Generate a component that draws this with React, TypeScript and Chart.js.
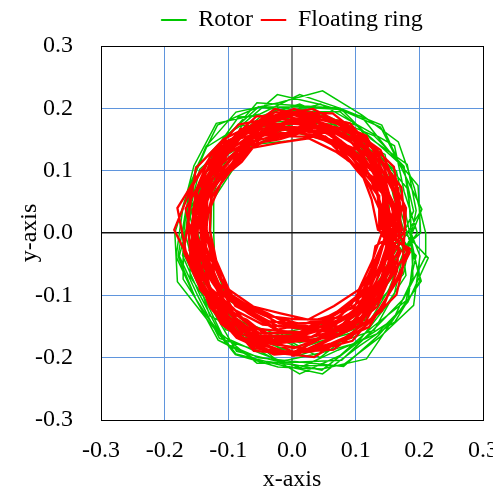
import React, { useEffect, useRef } from 'react';
import { Chart, registerables } from 'chart.js';

Chart.register(...registerables);

const seriesNames = ['Rotor', 'Floating ring'];
const seriesColors = ['#00c800', '#ff0000'];
const axisMin = -0.3;
const axisMax = 0.3;
const axisStep = 0.1;
const axisTitles = ['x-axis', 'y-axis'];

// Rotor orbit (x, y) samples
const rotorPoints: [number, number][] = [
  [0.177, 0], [0.159, 0.060], [0.146, 0.126], [0.093, 0.155], [0.042, 0.189], [-0.015, 0.169], [-0.078, 0.173], [-0.111, 0.117], [-0.146, 0.064], [-0.143, 0], [-0.154, -0.067], [-0.113, -0.118], [-0.075, -0.168], [-0.015, -0.167], [0.044, -0.200], [0.095, -0.160], [0.133, -0.114], [0.175, -0.066],
  [0.195, 0.036], [0.181, 0.110], [0.124, 0.151], [0.076, 0.200], [0.012, 0.204], [-0.055, 0.209], [-0.102, 0.153], [-0.151, 0.106], [-0.159, 0.034], [-0.177, -0.037], [-0.147, -0.103], [-0.114, -0.169], [-0.049, -0.190], [0.012, -0.226], [0.075, -0.197], [0.125, -0.152], [0.179, -0.109], [0.195, -0.036],
  [0.161, 0], [0.145, 0.054], [0.129, 0.111], [0.085, 0.141], [0.036, 0.153], [-0.014, 0.166], [-0.060, 0.139], [-0.106, 0.112], [-0.126, 0.056], [-0.128, 0], [-0.131, -0.058], [-0.099, -0.105], [-0.057, -0.133], [-0.014, -0.164], [0.037, -0.157], [0.089, -0.149], [0.124, -0.106], [0.147, -0.055],
  [0.204, 0.038], [0.172, 0.104], [0.141, 0.173], [0.076, 0.200], [0.012, 0.222], [-0.050, 0.191], [-0.119, 0.176], [-0.154, 0.108], [-0.172, 0.036], [-0.182, -0.038], [-0.151, -0.106], [-0.116, -0.172], [-0.054, -0.204], [0.012, -0.213], [0.080, -0.212], [0.137, -0.168], [0.191, -0.116], [0.201, -0.037],
  [0.187, 0], [0.183, 0.069], [0.141, 0.121], [0.102, 0.173], [0.042, 0.189], [-0.020, 0.202], [-0.071, 0.160], [-0.123, 0.127], [-0.148, 0.065], [-0.168, 0], [-0.151, -0.066], [-0.129, -0.133], [-0.072, -0.162], [-0.021, -0.207], [0.043, -0.193], [0.103, -0.176], [0.143, -0.124], [0.179, -0.068],
  [0.167, 0.030], [0.141, 0.084], [0.116, 0.139], [0.064, 0.162], [0.012, 0.179], [-0.039, 0.158], [-0.093, 0.141], [-0.122, 0.087], [-0.131, 0.028], [-0.144, -0.031], [-0.120, -0.086], [-0.091, -0.138], [-0.038, -0.157], [0.012, -0.176], [0.064, -0.162], [0.116, -0.139], [0.142, -0.085], [0.168, -0.031],
  [0.202, 0], [0.198, 0.076], [0.152, 0.132], [0.109, 0.187], [0.045, 0.206], [-0.023, 0.222], [-0.078, 0.174], [-0.134, 0.138], [-0.162, 0.071], [-0.170, 0], [-0.171, -0.074], [-0.132, -0.136], [-0.088, -0.194], [-0.022, -0.211], [0.048, -0.226], [0.106, -0.181], [0.162, -0.142], [0.201, -0.077],
  [0.178, 0.033], [0.164, 0.099], [0.116, 0.139], [0.070, 0.181], [0.012, 0.200], [-0.043, 0.172], [-0.099, 0.149], [-0.132, 0.094], [-0.162, 0.034], [-0.146, -0.031], [-0.135, -0.096], [-0.104, -0.155], [-0.044, -0.174], [0.012, -0.196], [0.069, -0.177], [0.129, -0.156], [0.161, -0.097], [0.175, -0.032],
  [0.154, 0], [0.152, 0.057], [0.117, 0.099], [0.085, 0.141], [0.037, 0.155], [-0.011, 0.147], [-0.062, 0.142], [-0.094, 0.100], [-0.123, 0.055], [-0.123, 0], [-0.121, -0.054], [-0.101, -0.107], [-0.058, -0.134], [-0.014, -0.160], [0.036, -0.149], [0.084, -0.139], [0.119, -0.101], [0.150, -0.056],
  [0.191, 0.035], [0.175, 0.106], [0.125, 0.152], [0.075, 0.195], [0.012, 0.194], [-0.053, 0.202], [-0.104, 0.155], [-0.150, 0.105], [-0.164, 0.035], [-0.169, -0.036], [-0.140, -0.099], [-0.110, -0.163], [-0.055, -0.209], [0.012, -0.207], [0.078, -0.204], [0.128, -0.155], [0.175, -0.106], [0.209, -0.039],
  [0.210, 0], [0.192, 0.073], [0.167, 0.146], [0.110, 0.189], [0.048, 0.228], [-0.021, 0.209], [-0.088, 0.194], [-0.135, 0.139], [-0.163, 0.071], [-0.184, 0], [-0.180, -0.078], [-0.134, -0.138], [-0.089, -0.195], [-0.022, -0.215], [0.047, -0.218], [0.117, -0.202], [0.159, -0.139], [0.203, -0.077],
  [0.172, 0.031], [0.158, 0.095], [0.112, 0.133], [0.068, 0.174], [0.012, 0.178], [-0.046, 0.179], [-0.087, 0.132], [-0.130, 0.092], [-0.153, 0.032], [-0.143, -0.030], [-0.137, -0.097], [-0.091, -0.138], [-0.040, -0.160], [0.012, -0.185], [0.066, -0.167], [0.120, -0.145], [0.152, -0.091], [0.175, -0.032],
  [0.197, 0], [0.176, 0.067], [0.161, 0.140], [0.102, 0.174], [0.045, 0.207], [-0.018, 0.189], [-0.084, 0.186], [-0.124, 0.129], [-0.146, 0.064], [-0.161, 0], [-0.160, -0.070], [-0.123, -0.127], [-0.087, -0.190], [-0.021, -0.206], [0.047, -0.220], [0.103, -0.176], [0.159, -0.139], [0.190, -0.072],
  [0.186, 0.034], [0.176, 0.107], [0.129, 0.156], [0.070, 0.181], [0.012, 0.207], [-0.048, 0.188], [-0.097, 0.146], [-0.145, 0.102], [-0.161, 0.034], [-0.172, -0.036], [-0.144, -0.101], [-0.111, -0.165], [-0.050, -0.193], [0.012, -0.216], [0.072, -0.188], [0.133, -0.162], [0.182, -0.111], [0.191, -0.035],
  [0.167, 0], [0.167, 0.063], [0.128, 0.109], [0.093, 0.157], [0.040, 0.173], [-0.018, 0.186], [-0.065, 0.149], [-0.113, 0.118], [-0.137, 0.060], [-0.138, 0], [-0.138, -0.061], [-0.115, -0.120], [-0.066, -0.150], [-0.018, -0.187], [0.040, -0.175], [0.095, -0.160], [0.129, -0.111], [0.164, -0.062],
  [0.204, 0.038], [0.172, 0.104], [0.139, 0.170], [0.076, 0.198], [0.012, 0.202], [-0.053, 0.202], [-0.117, 0.173], [-0.150, 0.105], [-0.167, 0.035], [-0.179, -0.037], [-0.151, -0.106], [-0.116, -0.172], [-0.052, -0.200], [0.012, -0.207], [0.081, -0.214], [0.135, -0.165], [0.182, -0.111], [0.214, -0.040],
  [0.177, 0],
];

// Floating ring orbit (x, y) samples
const ringPoints: [number, number][] = [
  [0.140, 0.005], [0.136, 0.059], [0.105, 0.101], [0.072, 0.139], [0.028, 0.164], [-0.020, 0.154], [-0.067, 0.140], [-0.098, 0.100], [-0.126, 0.057], [-0.138, 0.005], [-0.123, -0.046], [-0.103, -0.094], [-0.062, -0.121], [-0.020, -0.145], [0.027, -0.152], [0.071, -0.126], [0.110, -0.095], [0.132, -0.047],
  [0.161, 0.037], [0.138, 0.092], [0.109, 0.145], [0.057, 0.171], [0.003, 0.175], [-0.053, 0.176], [-0.098, 0.139], [-0.137, 0.095], [-0.149, 0.035], [-0.161, -0.028], [-0.134, -0.083], [-0.097, -0.128], [-0.054, -0.171], [0.003, -0.174], [0.057, -0.160], [0.109, -0.135], [0.136, -0.081], [0.162, -0.027],
  [0.149, 0.005], [0.145, 0.062], [0.112, 0.107], [0.077, 0.148], [0.029, 0.172], [-0.022, 0.164], [-0.071, 0.149], [-0.105, 0.106], [-0.136, 0.061], [-0.141, 0.005], [-0.140, -0.053], [-0.108, -0.100], [-0.067, -0.130], [-0.022, -0.157], [0.029, -0.160], [0.074, -0.133], [0.117, -0.102], [0.139, -0.050],
  [0.168, 0.038], [0.152, 0.101], [0.109, 0.145], [0.061, 0.184], [0.003, 0.190], [-0.056, 0.187], [-0.102, 0.144], [-0.144, 0.099], [-0.180, 0.040], [-0.167, -0.029], [-0.140, -0.087], [-0.110, -0.145], [-0.055, -0.174], [0.003, -0.196], [0.060, -0.169], [0.112, -0.139], [0.144, -0.086], [0.185, -0.025],
  [0.135, 0.005], [0.125, 0.054], [0.107, 0.103], [0.068, 0.131], [0.026, 0.152], [-0.019, 0.145], [-0.065, 0.136], [-0.097, 0.099], [-0.127, 0.058], [-0.129, 0.005], [-0.119, -0.044], [-0.099, -0.091], [-0.061, -0.118], [-0.018, -0.129], [0.025, -0.139], [0.066, -0.117], [0.105, -0.091], [0.126, -0.045],
  [0.153, 0.035], [0.132, 0.088], [0.104, 0.139], [0.056, 0.167], [0.003, 0.170], [-0.050, 0.168], [-0.095, 0.135], [-0.128, 0.089], [-0.153, 0.036], [-0.147, -0.025], [-0.125, -0.077], [-0.098, -0.129], [-0.052, -0.165], [0.003, -0.168], [0.054, -0.153], [0.102, -0.126], [0.140, -0.083], [0.150, -0.024],
  [0.167, 0.005], [0.162, 0.069], [0.126, 0.121], [0.086, 0.165], [0.030, 0.180], [-0.026, 0.189], [-0.078, 0.162], [-0.127, 0.127], [-0.151, 0.068], [-0.158, 0.005], [-0.154, -0.059], [-0.121, -0.112], [-0.083, -0.161], [-0.025, -0.177], [0.031, -0.172], [0.087, -0.158], [0.128, -0.113], [0.160, -0.059],
  [0.143, 0.033], [0.128, 0.086], [0.092, 0.123], [0.052, 0.155], [0.003, 0.161], [-0.047, 0.159], [-0.085, 0.122], [-0.120, 0.084], [-0.140, 0.034], [-0.135, -0.023], [-0.114, -0.071], [-0.089, -0.117], [-0.044, -0.141], [0.003, -0.145], [0.051, -0.144], [0.091, -0.112], [0.127, -0.075], [0.141, -0.023],
  [0.160, 0.005], [0.146, 0.063], [0.125, 0.119], [0.081, 0.155], [0.031, 0.182], [-0.023, 0.174], [-0.076, 0.158], [-0.113, 0.114], [-0.144, 0.065], [-0.160, 0.005], [-0.143, -0.054], [-0.119, -0.109], [-0.073, -0.142], [-0.024, -0.169], [0.031, -0.175], [0.081, -0.145], [0.119, -0.104], [0.152, -0.055],
  [0.149, 0.034], [0.135, 0.090], [0.096, 0.129], [0.054, 0.162], [0.003, 0.168], [-0.048, 0.163], [-0.089, 0.127], [-0.125, 0.087], [-0.147, 0.035], [-0.141, -0.024], [-0.120, -0.074], [-0.093, -0.122], [-0.046, -0.147], [0.003, -0.151], [0.053, -0.150], [0.100, -0.124], [0.128, -0.076], [0.150, -0.024],
  [0.173, 0.005], [0.159, 0.068], [0.135, 0.129], [0.087, 0.167], [0.032, 0.194], [-0.025, 0.185], [-0.084, 0.174], [-0.126, 0.126], [-0.159, 0.071], [-0.185, 0.005], [-0.154, -0.059], [-0.127, -0.117], [-0.086, -0.167], [-0.028, -0.195], [0.033, -0.185], [0.087, -0.157], [0.134, -0.118], [0.159, -0.058],
  [0.140, 0.032], [0.119, 0.080], [0.094, 0.126], [0.050, 0.149], [0.003, 0.165], [-0.043, 0.147], [-0.087, 0.125], [-0.112, 0.079], [-0.132, 0.032], [-0.137, -0.023], [-0.113, -0.070], [-0.086, -0.113], [-0.042, -0.133], [0.003, -0.138], [0.050, -0.139], [0.093, -0.115], [0.119, -0.070], [0.140, -0.022],
  [0.164, 0.005], [0.152, 0.065], [0.128, 0.123], [0.083, 0.159], [0.030, 0.175], [-0.025, 0.184], [-0.076, 0.158], [-0.123, 0.124], [-0.149, 0.066], [-0.154, 0.005], [-0.150, -0.057], [-0.119, -0.109], [-0.081, -0.157], [-0.025, -0.172], [0.030, -0.167], [0.085, -0.154], [0.125, -0.109], [0.156, -0.057],
  [0.152, 0.035], [0.138, 0.092], [0.098, 0.131], [0.055, 0.165], [0.003, 0.180], [-0.048, 0.162], [-0.096, 0.136], [-0.124, 0.087], [-0.146, 0.035], [-0.150, -0.026], [-0.126, -0.078], [-0.095, -0.125], [-0.051, -0.161], [0.003, -0.160], [0.056, -0.157], [0.099, -0.122], [0.138, -0.082], [0.152, -0.025],
  [0.146, 0.005], [0.135, 0.058], [0.114, 0.110], [0.074, 0.142], [0.028, 0.167], [-0.021, 0.157], [-0.069, 0.145], [-0.101, 0.103], [-0.131, 0.060], [-0.143, 0.005], [-0.129, -0.048], [-0.107, -0.099], [-0.065, -0.126], [-0.021, -0.150], [0.028, -0.155], [0.072, -0.129], [0.112, -0.097], [0.135, -0.048],
  [0.159, 0.036], [0.144, 0.096], [0.103, 0.138], [0.058, 0.173], [0.003, 0.189], [-0.051, 0.170], [-0.101, 0.143], [-0.130, 0.091], [-0.153, 0.036], [-0.158, -0.027], [-0.133, -0.083], [-0.101, -0.133], [-0.054, -0.169], [0.003, -0.185], [0.058, -0.163], [0.104, -0.129], [0.144, -0.086], [0.159, -0.026],
  [0.155, 0.005], [0.135, 0.058], [0.128, 0.123], [0.075, 0.145], [0.030, 0.179], [-0.020, 0.155], [-0.081, 0.167], [-0.110, 0.111], [-0.130, 0.059], [-0.158, 0.005], [-0.134, -0.051], [-0.127, -0.117], [-0.071, -0.139], [-0.025, -0.177], [0.027, -0.152], [0.083, -0.149], [0.118, -0.103], [0.156, -0.057],
  [0.138, 0.032], [0.131, 0.087], [0.087, 0.117], [0.051, 0.154], [0.003, 0.155], [-0.046, 0.157], [-0.079, 0.114], [-0.117, 0.082], [-0.144, 0.034], [-0.128, -0.021], [-0.121, -0.075], [-0.084, -0.111], [-0.040, -0.128], [0.003, -0.151], [0.049, -0.136], [0.097, -0.120], [0.122, -0.072], [0.131, -0.021],
  [0.170, 0.005], [0.167, 0.072], [0.125, 0.119], [0.089, 0.171], [0.031, 0.185], [-0.027, 0.199], [-0.078, 0.161], [-0.126, 0.126], [-0.160, 0.071], [-0.163, 0.005], [-0.157, -0.060], [-0.121, -0.112], [-0.086, -0.167], [-0.026, -0.179], [0.033, -0.187], [0.093, -0.168], [0.128, -0.113], [0.163, -0.060],
  [0.147, 0.034], [0.139, 0.093], [0.095, 0.127], [0.056, 0.167], [0.003, 0.170], [-0.052, 0.173], [-0.090, 0.129], [-0.132, 0.092], [-0.146, 0.035], [-0.137, -0.023], [-0.134, -0.083], [-0.092, -0.121], [-0.052, -0.165], [0.003, -0.165], [0.052, -0.147], [0.104, -0.129], [0.132, -0.078], [0.155, -0.025],
  [0.137, 0.005], [0.137, 0.060], [0.103, 0.099], [0.072, 0.139], [0.028, 0.165], [-0.020, 0.150], [-0.068, 0.142], [-0.100, 0.102], [-0.133, 0.060], [-0.134, 0.005], [-0.120, -0.045], [-0.104, -0.095], [-0.064, -0.124], [-0.019, -0.137], [0.027, -0.150], [0.071, -0.126], [0.113, -0.099], [0.132, -0.047],
  [0.165, 0.037], [0.138, 0.092], [0.113, 0.151], [0.058, 0.173], [0.003, 0.192], [-0.051, 0.170], [-0.104, 0.147], [-0.137, 0.095], [-0.167, 0.039], [-0.153, -0.026], [-0.140, -0.087], [-0.106, -0.139], [-0.053, -0.166], [0.003, -0.191], [0.058, -0.163], [0.111, -0.138], [0.140, -0.083], [0.167, -0.028],
  [0.150, 0.005], [0.150, 0.065], [0.118, 0.113], [0.083, 0.159], [0.027, 0.162], [-0.023, 0.174], [-0.070, 0.146], [-0.118, 0.118], [-0.137, 0.062], [-0.152, 0.005], [-0.133, -0.050], [-0.113, -0.104], [-0.078, -0.151], [-0.022, -0.157], [0.030, -0.167], [0.078, -0.141], [0.124, -0.108], [0.140, -0.051],
  [0.173, 0.039], [0.144, 0.096], [0.117, 0.156], [0.060, 0.181], [0.003, 0.199], [-0.053, 0.178], [-0.107, 0.151], [-0.151, 0.104], [-0.161, 0.038], [-0.170, -0.030], [-0.144, -0.089], [-0.101, -0.133], [-0.056, -0.176], [0.003, -0.197], [0.060, -0.171], [0.115, -0.143], [0.146, -0.087], [0.171, -0.029],
  [0.143, 0.005], [0.143, 0.062], [0.107, 0.103], [0.076, 0.146], [0.027, 0.157], [-0.023, 0.170], [-0.068, 0.142], [-0.099, 0.101], [-0.136, 0.061], [-0.137, 0.005], [-0.140, -0.053], [-0.106, -0.097], [-0.065, -0.127], [-0.022, -0.155], [0.026, -0.144], [0.075, -0.135], [0.109, -0.094], [0.142, -0.051],
  [0.159, 0.036], [0.134, 0.089], [0.108, 0.144], [0.056, 0.167], [0.003, 0.184], [-0.048, 0.162], [-0.103, 0.145], [-0.132, 0.092], [-0.156, 0.037], [-0.147, -0.025], [-0.141, -0.088], [-0.098, -0.129], [-0.055, -0.173], [0.003, -0.174], [0.059, -0.168], [0.102, -0.126], [0.143, -0.085], [0.156, -0.026],
  [0.178, 0.005], [0.172, 0.073], [0.133, 0.127], [0.091, 0.176], [0.032, 0.189], [-0.026, 0.194], [-0.079, 0.164], [-0.119, 0.119], [-0.143, 0.064], [-0.155, 0.005], [-0.151, -0.058], [-0.129, -0.119], [-0.087, -0.168], [-0.028, -0.195], [0.033, -0.190], [0.095, -0.173], [0.138, -0.121], [0.173, -0.064],
  [0.179, 0.040], [0.151, 0.100], [0.116, 0.155], [0.061, 0.183], [0.003, 0.199], [-0.052, 0.175], [-0.098, 0.139], [-0.129, 0.090], [-0.152, 0.036], [-0.155, -0.027], [-0.142, -0.089], [-0.111, -0.146], [-0.059, -0.185], [0.003, -0.191], [0.065, -0.187], [0.118, -0.147], [0.164, -0.099], [0.180, -0.030],
  [0.167, 0.005], [0.166, 0.071], [0.139, 0.133], [0.088, 0.170], [0.033, 0.199], [-0.026, 0.189], [-0.078, 0.161], [-0.116, 0.117], [-0.150, 0.067], [-0.151, 0.005], [-0.153, -0.058], [-0.127, -0.117], [-0.084, -0.164], [-0.028, -0.192], [0.035, -0.199], [0.090, -0.163], [0.141, -0.125], [0.165, -0.061],
  [0.171, 0.039], [0.160, 0.106], [0.114, 0.152], [0.064, 0.192], [0.003, 0.194], [-0.053, 0.178], [-0.099, 0.140], [-0.132, 0.092], [-0.156, 0.037], [-0.152, -0.026], [-0.145, -0.090], [-0.104, -0.137], [-0.060, -0.189], [0.003, -0.194], [0.062, -0.177], [0.121, -0.151], [0.155, -0.093], [0.185, -0.031],
  [0.150, 0.005],
];

const FONT = '"Liberation Serif", "Times New Roman", serif';
const GRID_BLUE = '#5f95dd';

function fmt(v: number) {
  return Math.abs(v) < 1e-9 ? '0.0' : v.toFixed(1);
}

function isEdge(v: number) {
  return Math.abs(Math.abs(v) - axisMax) < 1e-9;
}

export default function App() {
  const ref = useRef<HTMLCanvasElement>(null);

  useEffect(() => {
    if (!ref.current) return;
    const defaultLabels = (Chart.defaults as any).plugins.legend.labels.generateLabels;
    const chart = new Chart(ref.current, {
      type: 'scatter',
      data: {
        datasets: [
          {
            label: seriesNames[0],
            data: rotorPoints.map(([x, y]) => ({ x, y })),
            showLine: true,
            borderColor: seriesColors[0],
            backgroundColor: seriesColors[0],
            borderWidth: 1.5,
            pointRadius: 0,
            pointHoverRadius: 0,
            tension: 0,
            order: 2,
          },
          {
            label: seriesNames[1],
            data: ringPoints.map(([x, y]) => ({ x, y })),
            showLine: true,
            borderColor: seriesColors[1],
            backgroundColor: seriesColors[1],
            borderWidth: 2.3,
            pointRadius: 0,
            pointHoverRadius: 0,
            tension: 0,
            order: 1,
          },
        ],
      },
      options: {
        animation: false,
        responsive: true,
        maintainAspectRatio: false,
        events: [],
        layout: { padding: { left: 0, right: 37, top: 0, bottom: 6 } },
        plugins: {
          tooltip: { enabled: false },
          legend: {
            display: true,
            position: 'top',
            align: 'center',
            fullSize: false,
            labels: {
              boxWidth: 25,
              boxHeight: 1,
              padding: 8,
              color: '#000',
              font: { family: FONT, size: 24 },
              generateLabels: (c: any) =>
                defaultLabels(c).map((it: any) => ({ ...it, lineWidth: 1 })),
              sort: (a: any, b: any) => a.datasetIndex - b.datasetIndex,
            },
          },
        },
        scales: {
          x: {
            type: 'linear',
            position: 'bottom',
            min: axisMin,
            max: axisMax,
            afterFit: (s: any) => { s.height = 65; },
            ticks: {
              stepSize: axisStep,
              padding: 16,
              color: '#000',
              font: { family: FONT, size: 24 },
              callback: (v: any) => fmt(Number(v)),
            },
            grid: {
              drawTicks: false,
              color: (ctx: any) => {
                const v = ctx.tick ? ctx.tick.value : 1;
                if (Math.abs(v) < 1e-9) return '#808080';
                if (isEdge(v)) return '#000';
                return GRID_BLUE;
              },
              lineWidth: (ctx: any) => {
                const v = ctx.tick ? ctx.tick.value : 1;
                return Math.abs(v) < 1e-9 ? 2 : 1;
              },
            },
            border: { display: true, color: '#000', width: 1 },
            title: {
              display: true,
              text: axisTitles[0],
              color: '#000',
              font: { family: FONT, size: 24, lineHeight: '10px' },
              padding: { top: 10, bottom: 0 },
            },
          },
          y: {
            type: 'linear',
            position: 'left',
            min: axisMin,
            max: axisMax,
            afterFit: (s: any) => { s.width = 101; },
            ticks: {
              stepSize: axisStep,
              padding: 28,
              color: '#000',
              font: { family: FONT, size: 24 },
              callback: (v: any) => fmt(Number(v)),
            },
            grid: {
              drawTicks: false,
              color: (ctx: any) => {
                const v = ctx.tick ? ctx.tick.value : 1;
                if (Math.abs(v) < 1e-9) return '#111';
                if (isEdge(v)) return '#000';
                return GRID_BLUE;
              },
              lineWidth: (ctx: any) => {
                const v = ctx.tick ? ctx.tick.value : 1;
                return Math.abs(v) < 1e-9 ? 1.5 : 1;
              },
            },
            border: { display: true, color: '#000', width: 1 },
            title: {
              display: true,
              text: axisTitles[1],
              color: '#000',
              font: { family: FONT, size: 24, lineHeight: '10px' },
              padding: { top: 25, bottom: 0 },
            },
          },
          spacer: {
            type: 'linear',
            position: 'top',
            display: true,
            afterFit: (s: any) => { s.height = 4; },
            ticks: { display: false },
            grid: { display: false, drawTicks: false },
            border: { display: false },
            title: { display: false },
          },
        },
      } as any,
    });
    return () => chart.destroy();
  }, []);

  return (
    <div style={{ position: 'absolute', left: 0, top: 0, width: 493, height: 491, overflow: 'hidden' }}>
      <div style={{ position: 'relative', width: 520, height: 491 }}>
        <canvas ref={ref} />
      </div>
    </div>
  );
}
